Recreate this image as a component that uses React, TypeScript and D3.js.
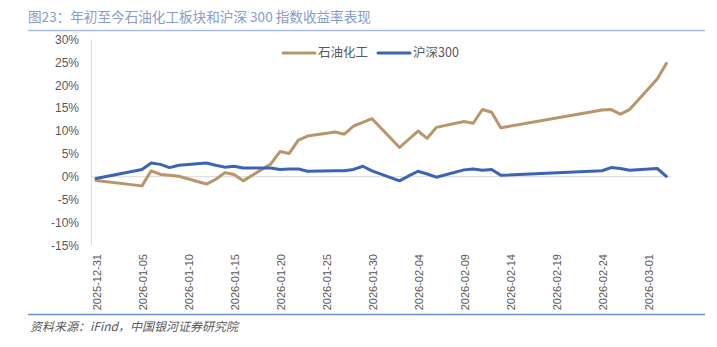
import React from "react";
import * as d3 from "d3";

const W = 717;
const H = 347;

const TITLE = "图23：年初至今石油化工板块和沪深 300 指数收益率表现";
const SOURCE = "资料来源：iFind，中国银河证券研究院";
const SERIES_NAMES = ["石油化工", "沪深300"];

const DATES = [
  "2025-12-31",
  "2026-01-05", "2026-01-06", "2026-01-07", "2026-01-08", "2026-01-09",
  "2026-01-12", "2026-01-13", "2026-01-14", "2026-01-15", "2026-01-16",
  "2026-01-19", "2026-01-20", "2026-01-21", "2026-01-22", "2026-01-23",
  "2026-01-26", "2026-01-27", "2026-01-28", "2026-01-29", "2026-01-30",
  "2026-02-02", "2026-02-03", "2026-02-04", "2026-02-05", "2026-02-06",
  "2026-02-09", "2026-02-10", "2026-02-11", "2026-02-12", "2026-02-13",
  "2026-02-24", "2026-02-25", "2026-02-26", "2026-02-27",
  "2026-03-02", "2026-03-03",
];

// 石油化工 (%)
const PETRO = [
  -0.8,
  -2.0, 1.3, 0.5, 0.3, 0.1,
  -1.6, -0.6, 0.9, 0.5, -0.9,
  2.8, 5.5, 5.1, 8.0, 8.9,
  9.8, 9.3, 11.1, 11.9, 12.7,
  6.4, 8.2, 10.0, 8.4, 10.8,
  12.1, 11.7, 14.7, 14.1, 10.7,
  14.6, 14.7, 13.7, 14.7,
  21.4, 24.8,
];

// 沪深300 (%)
const HS300 = [
  -0.4,
  1.6, 3.0, 2.7, 2.0, 2.5,
  3.0, 2.5, 2.1, 2.3, 1.9,
  1.9, 1.6, 1.7, 1.7, 1.2,
  1.3, 1.3, 1.6, 2.3, 1.3,
  -0.9, 0.2, 1.2, 0.6, -0.1,
  1.5, 1.7, 1.4, 1.6, 0.3,
  1.3, 2.0, 1.8, 1.4,
  1.8, 0.1,
];

const Y_TICKS = [-15, -10, -5, 0, 5, 10, 15, 20, 25, 30];
const X_TICK_LABELS = [
  "2025-12-31", "2026-01-05", "2026-01-10", "2026-01-15", "2026-01-20",
  "2026-01-25", "2026-01-30", "2026-02-04", "2026-02-09", "2026-02-14",
  "2026-02-19", "2026-02-24", "2026-03-01",
];

const COLORS = ["#b9956a", "#3b64b4"];

const parse = d3.utcParse("%Y-%m-%d");

export default function App() {
  const dates = DATES.map((s) => parse(s) as Date);
  const first = dates[0];
  const last = dates[dates.length - 1];
  const halfDay = 12 * 3600 * 1000;

  const x = d3
    .scaleUtc()
    .domain([new Date(+first - halfDay), new Date(+last + halfDay)])
    .range([91.4, 671]);
  const y = d3.scaleLinear().domain([-15, 30]).range([245.3, 39.6]);

  const seriesData = [PETRO, HS300];
  const line = d3
    .line<[Date, number]>()
    .x((d) => x(d[0]))
    .y((d) => y(d[1]));

  const font = "'Liberation Sans', Arial, sans-serif";
  const cjk = "'Noto Sans CJK SC', 'Liberation Sans', sans-serif";

  return (
    <svg
      width={W}
      height={H}
      style={{ position: "absolute", left: 0, top: 0, background: "#fff" }}
    >
      {/* title */}
      <text x={28} y={22} fontFamily={cjk} fontSize={13.6} fill="#8a9bcc">
        {TITLE}
      </text>
      <line x1={28} x2={705} y1={30.5} y2={30.5} stroke="#aabde0" strokeWidth={1.5} />

      {/* y axis line */}
      <line x1={x.range()[0]} x2={x.range()[0]} y1={y(30)} y2={y(-15)} stroke="#d9d9d9" strokeWidth={1} />

      {/* y tick labels */}
      {Y_TICKS.map((t) => (
        <text
          key={t}
          x={79}
          y={y(t)}
          dy="0.35em"
          textAnchor="end"
          fontFamily={font}
          fontSize={12}
          fill="#595959"
        >
          {`${t}%`}
        </text>
      ))}

      {/* zero line */}
      <line x1={x.range()[0]} x2={x.range()[1]} y1={y(0)} y2={y(0)} stroke="#d9d9d9" strokeWidth={1} />

      {/* x tick labels */}
      {X_TICK_LABELS.map((s) => {
        const px = x(parse(s) as Date);
        return (
          <text
            key={s}
            transform={`translate(${px + 1},254) rotate(-90)`}
            dy="0.35em"
            textAnchor="end"
            fontFamily={font}
            fontSize={11}
            fill="#595959"
          >
            {s}
          </text>
        );
      })}

      {/* series lines */}
      {seriesData.map((vals, i) => (
        <path
          key={i}
          d={line(dates.map((d, j) => [d, vals[j]] as [Date, number])) || ""}
          fill="none"
          stroke={COLORS[i]}
          strokeWidth={3}
          strokeLinejoin="round"
          strokeLinecap="round"
        />
      ))}

      {/* legend */}
      {SERIES_NAMES.map((name, i) => {
        const lx = [283, 378][i];
        return (
          <g key={name}>
            <line x1={lx} x2={lx + 32} y1={53} y2={53} stroke={COLORS[i]} strokeWidth={3} strokeLinecap="round" />
            <text x={lx + 35} y={53} dy="0.35em" fontFamily={cjk} fontSize={12.5} fill="#595959">
              {name}
            </text>
          </g>
        );
      })}

      {/* bottom rule and source */}
      <line x1={28} x2={705} y1={314.5} y2={314.5} stroke="#6f8fcf" strokeWidth={1.5} />
      <text x={30} y={331} fontFamily={cjk} fontSize={12} fontStyle="italic" fill="#595959">
        {SOURCE}
      </text>
    </svg>
  );
}
